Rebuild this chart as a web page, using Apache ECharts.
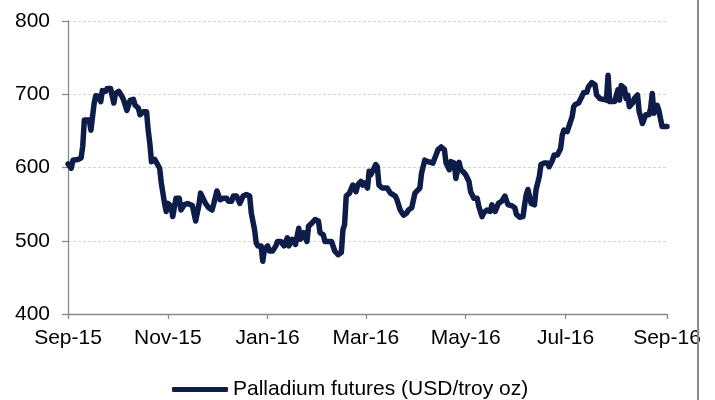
<!DOCTYPE html>
<html>
<head>
<meta charset="utf-8">
<script src="https://cdn.jsdelivr.net/npm/echarts@6/dist/echarts.min.js"></script>
<style>
html,body{margin:0;padding:0;background:#fff;}
#chart{width:715px;height:400px;}
</style>
</head>
<body>
<div id="chart"></div>
<script>
// Series start date (Sep 1, 2015) and day offsets from it
const startDate = '2015-09-01';
const dayOffsets = [0,2,3,6,8,9,10,11,13,14,15,16,17,19,20,21,23,24,26,28,29,31,33,34,36,38,40,41,43,44,46,48,49,50,51,53,54,56,57,59,60,61,63,64,66,68,69,71,73,76,78,80,81,82,84,86,88,89,91,93,95,97,98,100,101,103,105,107,109,111,112,114,115,116,118,119,120,122,123,125,127,128,130,132,134,135,137,139,141,142,144,146,147,149,151,153,154,156,157,159,161,163,165,167,168,169,170,172,173,174,176,177,179,180,181,183,184,185,187,188,189,190,192,193,195,197,198,200,201,203,205,207,208,210,212,213,215,216,218,220,223,224,226,228,230,231,233,234,236,237,239,240,242,243,245,246,248,250,251,253,254,256,258,259,261,263,265,267,268,269,271,273,274,276,278,279,280,281,283,285,286,288,289,291,293,294,296,297,299,301,302,303,305,306,308,309,310,312,314,315,317,318,320,322,323,325,327,329,330,331,332,334,336,337,338,340,341,342,343,345,346,348,349,351,353,355,356,357,358,360,361,362,363,364,366];
const prices = [605,599,610,611,613,629,665,667,665,651,652,688,698,697,690,705,704,708,708,688,701,704,697,692,678,692,693,685,681,672,676,676,651,633,608,611,613,599,579,551,540,551,547,533,558,558,542,549,551,548,527,549,565,565,551,545,542,550,568,556,558,558,554,554,561,561,551,561,563,561,538,515,497,493,493,472,488,493,486,486,493,499,499,493,504,493,502,495,517,502,511,499,520,524,529,527,511,508,499,499,499,486,481,484,515,522,561,565,565,576,567,576,581,576,579,572,595,590,599,604,601,576,572,570,572,565,563,561,556,542,535,538,542,545,565,567,572,592,610,608,606,608,624,628,624,606,597,608,606,585,607,597,593,590,581,567,558,558,547,533,538,542,540,549,540,551,554,561,554,549,548,545,536,532,533,549,563,570,551,549,570,588,604,606,606,601,610,617,617,626,644,651,649,649,669,683,686,688,697,702,703,710,716,713,699,694,693,692,726,690,690,690,706,692,712,708,694,699,683,688,694,699,676,660,672,672,681,701,674,685,678,676,656,655,656];

const tickDates = ['2015-09-01','2015-11-01','2016-01-01','2016-03-01','2016-05-01','2016-07-01','2016-09-01'];
const tickLabels = ['Sep-15','Nov-15','Jan-16','Mar-16','May-16','Jul-16','Sep-16'];
const seriesName = 'Palladium futures (USD/troy oz)';

function toTs(s){ const p = s.split('-').map(Number); return Date.UTC(p[0], p[1]-1, p[2]); }
const DAY = 86400000;
const t0 = toTs(startDate);
const tickDays = tickDates.map(s => Math.round((toTs(s) - t0) / DAY));
const data = dayOffsets.map((d,i) => [d, prices[i]]);

const chart = echarts.init(document.getElementById('chart'), null, {renderer:'canvas'});
const FONT = 'Liberation Sans, Arial, sans-serif';
chart.setOption({
  animation: false,
  backgroundColor: '#ffffff',
  grid: {left: 68, right: 48, top: 21, bottom: 86, containLabel: false},
  xAxis: {
    type: 'value',
    min: tickDays[0],
    max: tickDays[tickDays.length-1],
    axisLine: {show: true, lineStyle: {color: '#8a8a8a', width: 1.3}},
    axisTick: {show: true, length: 5, customValues: tickDays, lineStyle: {color: '#8a8a8a', width: 1.3}},
    axisLabel: {
      customValues: tickDays,
      margin: 14,
      fontSize: 21,
      fontFamily: FONT,
      color: '#000',
      hideOverlap: false,
      showMinLabel: true,
      showMaxLabel: true,
      formatter: function(v){ const i = tickDays.indexOf(v); return i >= 0 ? tickLabels[i] : ''; }
    },
    splitLine: {show: false}
  },
  yAxis: {
    type: 'value',
    min: 400, max: 800, interval: 100,
    axisLine: {show: true, lineStyle: {color: '#8a8a8a', width: 1.3}},
    axisTick: {show: true, length: 6, lineStyle: {color: '#8a8a8a', width: 1.3}},
    axisLabel: {margin: 18, fontSize: 21, fontFamily: FONT, color: '#000'},
    splitLine: {show: true, lineStyle: {color: '#d4d4d4', width: 1, type: [3, 2]}}
  },
  legend: {
    show: true,
    left: 167, top: 374,
    itemWidth: 56, itemHeight: 5,
    icon: 'roundRect',
    textStyle: {fontSize: 21, fontFamily: FONT, color: '#000'},
    data: [seriesName]
  },
  series: [{
    name: seriesName,
    type: 'line',
    data: data,
    showSymbol: false,
    symbol: 'none',
    smooth: false,
    lineStyle: {color: '#0d1c48', width: 5.5, join: 'round', cap: 'round'},
    itemStyle: {color: '#0d1c48'}
  }],
  graphic: [{
    type: 'line',
    shape: {x1: 698, y1: 0, x2: 698, y2: 400},
    style: {stroke: '#8a8a8a', lineWidth: 2},
    z: 100
  }]
});
</script>
</body>
</html>
